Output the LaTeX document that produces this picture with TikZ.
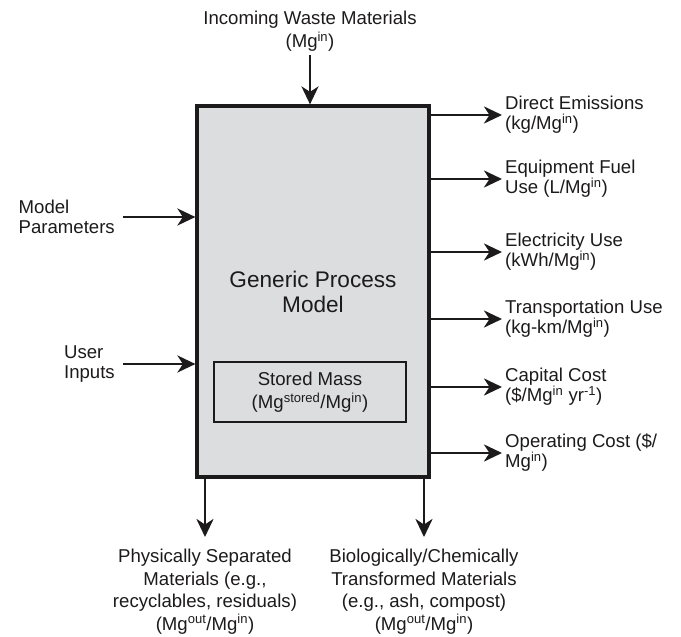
\documentclass[tikz,border=0pt]{standalone}
\usepackage{fontspec}
\setmainfont{Liberation Sans}
\usepackage{tikz}
\usetikzlibrary{arrows.meta, positioning}
\definecolor{procgray}{RGB}{220,221,223}
\definecolor{ink}{RGB}{28,26,27}
\newcommand{\mgin}{Mg\textsuperscript{in}}

\begin{document}
\begin{tikzpicture}[x=1pt, y=-1pt,
    flow/.style={-{Stealth[length=18pt, width=17pt, inset=5.5pt]}, line width=2.8pt, draw=ink},
    lbl/.style={font=\fontsize{18.6}{20}\selectfont, text=ink, inner sep=3pt, align=left},
    lblc/.style={font=\fontsize{18.6}{22.5}\selectfont, text=ink, inner sep=3pt, align=center}]
    \useasboundingbox (0,0) rectangle (681,637);

    % Modello
    \node[draw=ink, line width=3.2pt, fill=procgray, minimum width=232, minimum height=371, align=center, font=\fontsize{22.6}{25}\selectfont, text=ink] (proc) at (313,291.5) {Generic Process\\Model};
    \node[draw=ink, line width=1.2pt, minimum width=192, minimum height=60, align=center, font=\fontsize{18.6}{23}\selectfont, text=ink] (store) at (310,392) {Stored Mass\\(Mg\textsuperscript{stored}/\mgin)};

    % Ingresso
    \node[lblc, font=\fontsize{18.6}{23}\selectfont, anchor=south] (waste) at (310,55) {Incoming Waste Materials\\(\mgin)};
    \draw[flow] (waste.south) -- (waste.south |- proc.north);

    \node[lbl, anchor=east] (param) at (118,217) {Model\\Parameters};
    \node[lbl, anchor=east] (user) at (118,364) {User\\Inputs};
    \draw[flow, shorten <=5pt] (param.east) -- (param.east -| proc.west);
    \draw[flow, shorten <=5pt] (user.east) -- (user.east -| proc.west);

    % Uscite
    \node[lbl, anchor=west] (emis) at (502,115) {Direct Emissions\\(kg/\mgin)};
    \node[lbl, anchor=west] (fuel) at (502,179) {Equipment Fuel\\Use (L/\mgin)};
    \node[lbl, anchor=west] (elec) at (502,252) {Electricity Use\\(kWh/\mgin)};
    \node[lbl, anchor=west] (trans) at (502,319) {Transportation Use\\(kg-km/\mgin)};
    \node[lbl, anchor=west] (capex) at (502,387) {Capital Cost\\(\$/\mgin\ yr\textsuperscript{-1})};
    \node[lbl, anchor=west] (opex) at (502,453) {Operating Cost (\$/\\\mgin)};
    \draw[flow] (emis.west -| proc.east) -- (emis.west);
    \draw[flow] (fuel.west -| proc.east) -- (fuel.west);
    \draw[flow] (elec.west -| proc.east) -- (elec.west);
    \draw[flow] (trans.west -| proc.east) -- (trans.west);
    \draw[flow] (capex.west -| proc.east) -- (capex.west);
    \draw[flow] (opex.west -| proc.east) -- (opex.west);

    % Materiali in uscita
    \node[lblc, anchor=north] (sep) at (205,546) {Physically Separated\\Materials (e.g.,\\recyclables, residuals)\\(Mg\textsuperscript{out}/\mgin)};
    \node[lblc, anchor=north] (trf) at (424,546) {Biologically/Chemically\\Transformed Materials\\(e.g., ash, compost)\\(Mg\textsuperscript{out}/\mgin)};
    \draw[flow, shorten >=9pt] (sep.north |- proc.south) -- (sep.north);
    \draw[flow, shorten >=9pt] (trf.north |- proc.south) -- (trf.north);
\end{tikzpicture}
\end{document}
